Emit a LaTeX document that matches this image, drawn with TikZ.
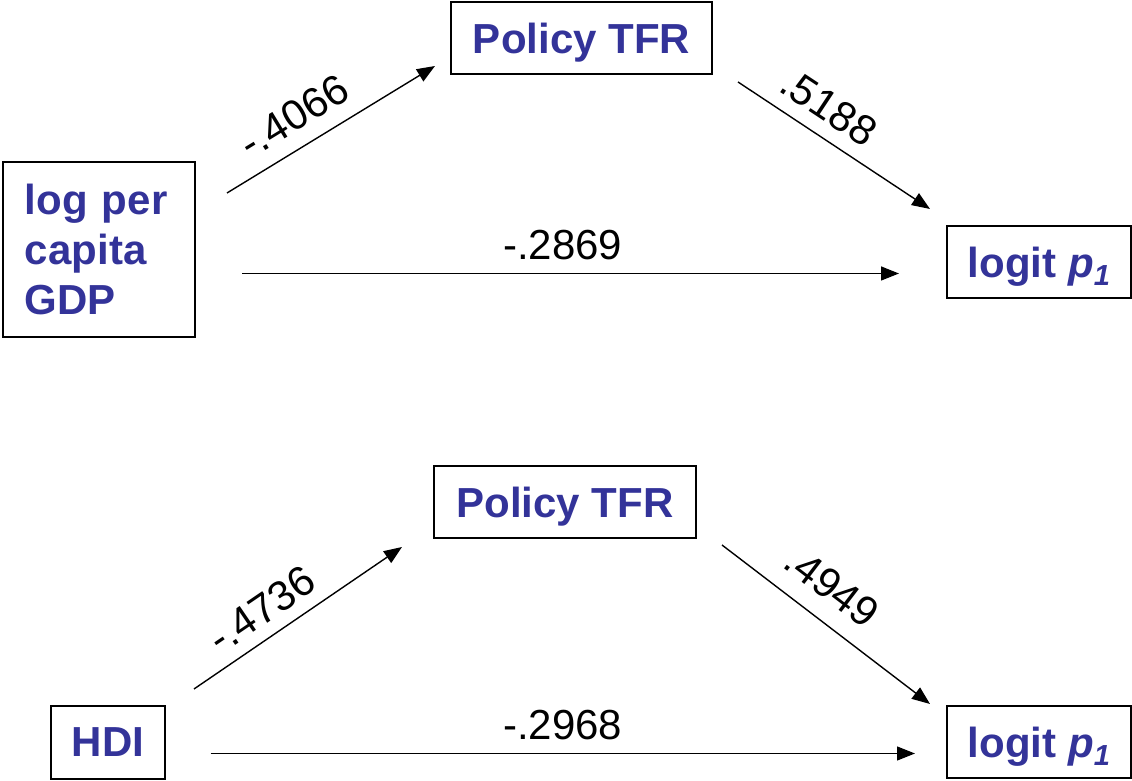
\documentclass[tikz,border=0pt]{standalone}
\usepackage{fontspec}
\setmainfont{Liberation Sans}
\usepackage{tikz}
\usetikzlibrary{arrows.meta}
\definecolor{boxblue}{RGB}{51,51,153}

\begin{document}
\begin{tikzpicture}[x=1bp,y=1bp]
            \tikzset{every node/.style={font=\fontsize{42bp}{50bp}\selectfont},
                    box/.style={draw=black, line width=2bp, inner sep=0pt, text depth=0pt,
                                text=boxblue, font=\fontsize{42bp}{50bp}\selectfont\bfseries},
                    coef/.style={sloped, anchor=south, inner xsep=0pt, inner ysep=#1},
                    coef/.default=14bp,
                    >={Triangle[length=18bp,width=14bp]},
                    every edge/.style={draw=black,line width=1.4bp}}
            \useasboundingbox (0,0) rectangle (1132,781);
            % upper model
            \node[box, text depth=, minimum width=192bp, minimum height=175bp, text width=148bp,
                  inner xsep=22bp, align=left] (g) at (99,531.5) {log per\\capita\\GDP};
            \node[box, minimum width=261bp, minimum height=72bp] (t1) at (581.5,743) {Policy TFR};
            \node[box, minimum width=184bp, minimum height=72bp] (l1) at (1039,519)
                {logit \textit{p}\raisebox{-8bp}{\fontsize{29bp}{29bp}\selectfont\itshape 1}};
            \coordinate (gt1) at (227,588);
            \coordinate (t1g) at (435,715);
            \coordinate (t1l) at (738,699);
            \coordinate (l1t) at (930,572);
            \coordinate (gl1) at (242,507.5);
            \coordinate (l1g) at (899,507.5);
            \path [->] (gt1) edge node[coef=15bp, pos=0.40] {-.4066} (t1g);
            \path [->] (t1l) edge node[coef=13.5bp, pos=0.39] {.5188} (l1t);
            \path [->] (gl1) edge node[coef=13bp, pos=0.488] {-.2869} (l1g);
            % lower model
            \node[box, minimum width=114bp, minimum height=73bp] (h) at (108,38.5) {HDI};
            \node[box, minimum width=262bp, minimum height=72bp] (t2) at (565,279) {Policy TFR};
            \node[box, minimum width=184bp, minimum height=72bp] (l2) at (1039,39)
                {logit \textit{p}\raisebox{-8bp}{\fontsize{29bp}{29bp}\selectfont\itshape 1}};
            \coordinate (ht2) at (194,92);
            \coordinate (t2h) at (402,234);
            \coordinate (t2l) at (722,236);
            \coordinate (l2t) at (930,77);
            \coordinate (hl2) at (210.5,27.5);
            \coordinate (l2h) at (915,27.5);
            \path [->] (ht2) edge node[coef=12bp, pos=0.40] {-.4736} (t2h);
            \path [->] (t2l) edge node[coef=18bp, pos=0.43] {.4949} (l2t);
            \path [->] (hl2) edge node[coef=13bp, pos=0.5] {-.2968} (l2h);
        \end{tikzpicture}
\end{document}
